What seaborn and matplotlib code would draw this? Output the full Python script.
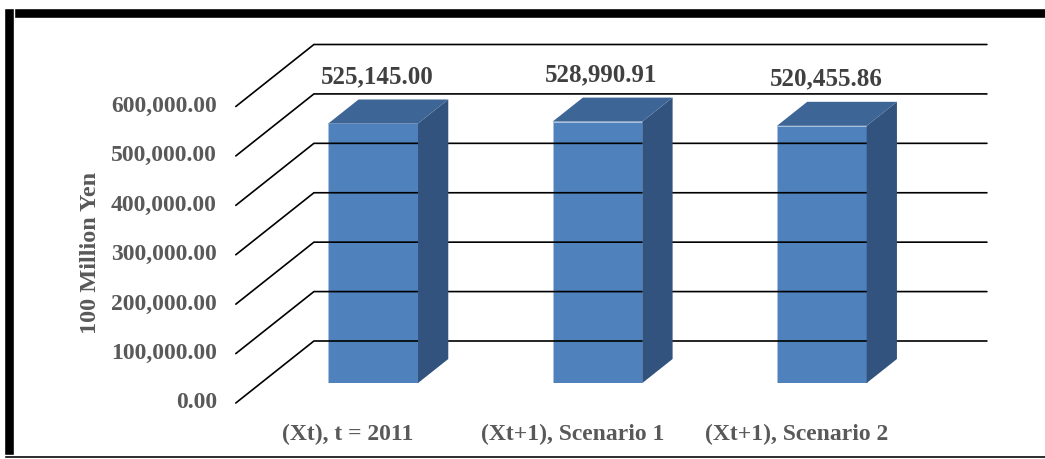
import numpy as np
import pandas as pd
import seaborn as sns
import matplotlib.pyplot as plt
from matplotlib.patches import Polygon, Rectangle
from matplotlib.lines import Line2D

# Data
categories = ["(Xt), t = 2011", "(Xt+1), Scenario 1", "(Xt+1), Scenario 2"]
values = [525145.00, 528990.91, 520455.86]
value_labels = ["525,145.00", "528,990.91", "520,455.86"]
y_ticks = [0, 100000, 200000, 300000, 400000, 500000, 600000]
y_tick_labels = ["0.00", "100,000.00", "200,000.00", "300,000.00",
                 "400,000.00", "500,000.00", "600,000.00"]
y_title = "100 Million Yen"

# Colours
FRONT = "#4F81BD"
TOP = "#3D6696"
SIDE = "#31537E"
TICK_GREY = "#595959"
LABEL_GREY = "#404040"

W, H, DPI = 1045, 459, 100
SLOPE = 1.26          # horizontal px per vertical px of depth
BAR_DEPTH = 24        # px
WALL_BACK = 42        # px from bar front plane to back wall
FLOOR_FRONT = -20     # px from bar front plane to the front edge


def main():
    sns.set_theme(style="white")
    plt.rcParams['font.family'] = ['Liberation Serif', 'DejaVu Serif']

    fig = plt.figure(figsize=(W / DPI, H / DPI), dpi=DPI)
    ax = fig.add_axes([261 / W, (H - 383) / H, 673 / W, 296.5 / H])

    df = pd.DataFrame({"category": categories, "value": values})
    sns.barplot(data=df, x="category", y="value", width=0.4, color=FRONT,
                saturation=1, ax=ax, zorder=3, edgecolor="#A9C1DF", linewidth=0.6)
    ax.set_xlim(-0.5, 2.5)
    ax.set_ylim(0, 600000)
    ax.set_axis_off()

    def px(x, v, depth):
        """Data point on the bar front plane, pushed back by depth pixels."""
        dx, dy = ax.transData.transform((x, v))
        return (dx + SLOPE * depth, dy + depth)

    # back wall and left wall gridlines
    for t, lab in zip(y_ticks, y_tick_labels):
        pts = [px(-0.5, t, FLOOR_FRONT), px(-0.5, t, WALL_BACK), px(2.5, t, WALL_BACK)]
        xs, ys = zip(*pts)
        fig.add_artist(Line2D(xs, ys, color="black", lw=1.2, transform=None, zorder=1))
        fx, fy = px(-0.5, t, FLOOR_FRONT)
        fig.text((fx - 19) / W, fy / H, lab, ha="right", va="center",
                 fontsize=17, fontweight="bold", color=TICK_GREY)

    # 3D faces from the seaborn bars
    for patch, lab in zip(ax.patches, value_labels):
        x0 = patch.get_x()
        x1 = x0 + patch.get_width()
        h = patch.get_height()
        side = [px(x1, 0, 0), px(x1, h, 0), px(x1, h, BAR_DEPTH), px(x1, 0, BAR_DEPTH)]
        top = [px(x0, h, 0), px(x1, h, 0), px(x1, h, BAR_DEPTH), px(x0, h, BAR_DEPTH)]
        fig.add_artist(Polygon(side, closed=True, facecolor=SIDE, edgecolor="none",
                               transform=None, zorder=4))
        fig.add_artist(Polygon(top, closed=True, facecolor=TOP, edgecolor="none",
                               transform=None, zorder=4))
        cx, cy = px((x0 + x1) / 2, h, 0)
        fig.text((cx + 4) / W, (cy + 47) / H, lab, ha="center", va="center",
                 fontsize=18, fontweight="bold", color=LABEL_GREY, zorder=5)

    # category labels along the front edge
    for i, cat in enumerate(categories):
        cx, cy = px(i, 0, FLOOR_FRONT)
        fig.text(cx / W, (cy - 31) / H, cat, ha="center", va="center",
                 fontsize=17, fontweight="bold", color=TICK_GREY)

    # axis title
    fig.text(90 / W, (H - 253) / H, y_title, rotation=90, ha="center", va="center",
             fontsize=17.5, fontweight="bold", color=TICK_GREY)

    # frame around the chart
    fig.add_artist(Rectangle((4, H - 18), W, 10, facecolor="black", transform=None))
    fig.add_artist(Rectangle((4, 1), 10, H - 9, facecolor="black", transform=None))
    fig.add_artist(Rectangle((4, 1), W, 3, facecolor="black", transform=None))

    fig.savefig("out.png", dpi=DPI, facecolor="white")
    plt.close(fig)


if __name__ == "__main__":
    main()
